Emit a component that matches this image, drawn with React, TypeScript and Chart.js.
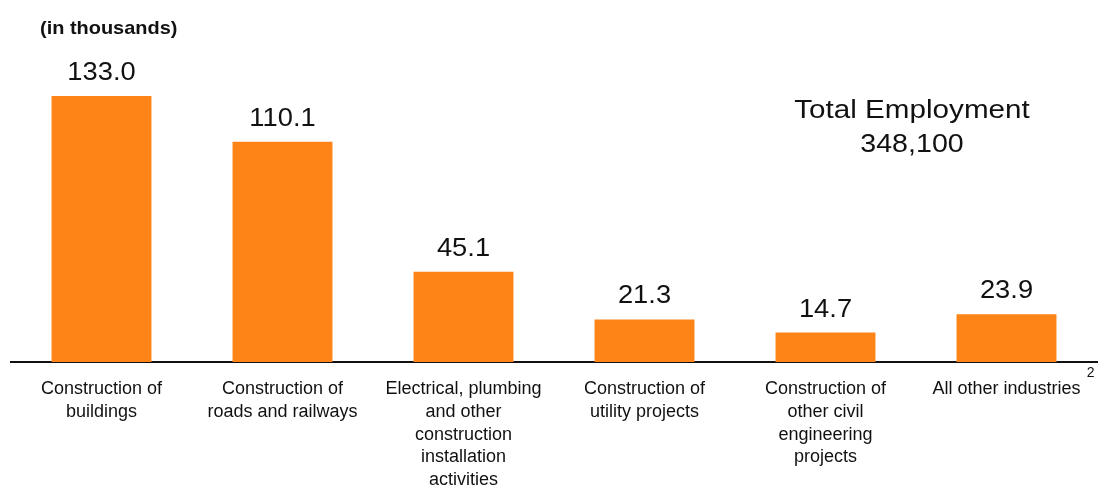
import React, { useEffect, useRef } from "react";
import { Chart, registerables } from "chart.js";

Chart.register(...registerables);

const categories: string[][] = [
  ["Construction of", "buildings"],
  ["Construction of", "roads and railways"],
  ["Electrical, plumbing", "and other", "construction", "installation", "activities"],
  ["Construction of", "utility projects"],
  ["Construction of", "other civil", "engineering", "projects"],
  ["All other industries"],
];
const employment: number[] = [133.0, 110.1, 45.1, 21.3, 14.7, 23.9];
const valueLabels: string[] = ["133.0", "110.1", "45.1", "21.3", "14.7", "23.9"];
const unitNote = "(in thousands)";
const totalTitle = "Total Employment";
const totalValue = "348,100";
const footnoteMark = "2";

const FONT = "'Liberation Sans', Arial, sans-serif";

function stretchText(ctx: any, text: string, x: number, y: number, sx: number) {
  ctx.save();
  ctx.translate(x, y);
  ctx.scale(sx, 1);
  ctx.fillText(text, 0, 0);
  ctx.restore();
}

const annotations = {
  id: "annotations",
  afterDatasetsDraw(chart: any) {
    const ctx = chart.ctx;
    const meta = chart.getDatasetMeta(0);
    ctx.save();
    ctx.fillStyle = "#111";
    ctx.textAlign = "center";
    ctx.textBaseline = "alphabetic";
    ctx.font = `26px ${FONT}`;
    meta.data.forEach((bar: any, i: number) => {
      stretchText(ctx, valueLabels[i], bar.x, bar.y - 16, 1.05);
    });
    // unit note
    ctx.textAlign = "left";
    ctx.font = `bold 19px ${FONT}`;
    stretchText(ctx, unitNote, 40, 34, 1.05);
    // total
    ctx.textAlign = "center";
    ctx.font = `26px ${FONT}`;
    stretchText(ctx, totalTitle, 912, 118, 1.14);
    stretchText(ctx, totalValue, 912, 152, 1.1);
    // footnote superscript
    const xs = chart.scales.x;
    const last = categories.length - 1;
    const cx = xs.getPixelForValue(last);
    ctx.font = `19px ${FONT}`;
    const w = ctx.measureText(categories[last][0]).width;
    ctx.textAlign = "left";
    ctx.font = `14px ${FONT}`;
    ctx.fillText(footnoteMark, cx + w / 2 + 2, 377);
    ctx.restore();
  },
};

export default function App() {
  const ref = useRef<HTMLCanvasElement>(null);
  useEffect(() => {
    if (!ref.current) return;
    const chart = new Chart(ref.current, {
      type: "bar",
      data: {
        labels: categories,
        datasets: [
          {
            data: employment,
            backgroundColor: "#FF8418",
            barPercentage: 1,
            categoryPercentage: 0.552,
          },
        ],
      },
      options: {
        animation: false,
        responsive: false,
        maintainAspectRatio: false,
        layout: { padding: { left: 11, right: 6, top: 62, bottom: 0 } },
        plugins: { legend: { display: false }, tooltip: { enabled: false } },
        scales: {
          x: {
            grid: { display: false },
            border: { display: true, color: "#111", width: 2 },
            afterFit: (scale: any) => {
              scale.height = 127;
            },
            ticks: {
              color: "#111",
              font: { family: FONT, size: 18, lineHeight: 1.26 },
              padding: 8,
              maxRotation: 0,
              autoSkip: false,
            },
          },
          y: {
            display: false,
            min: 0,
            max: 150,
          },
        },
      },
      plugins: [annotations],
    });
    return () => chart.destroy();
  }, []);
  return (
    <div style={{ position: "fixed", left: 0, top: 0, width: 1103, height: 489, background: "#fff" }}>
      <canvas ref={ref} width={1103} height={489} style={{ width: 1103, height: 489 }} />
    </div>
  );
}
